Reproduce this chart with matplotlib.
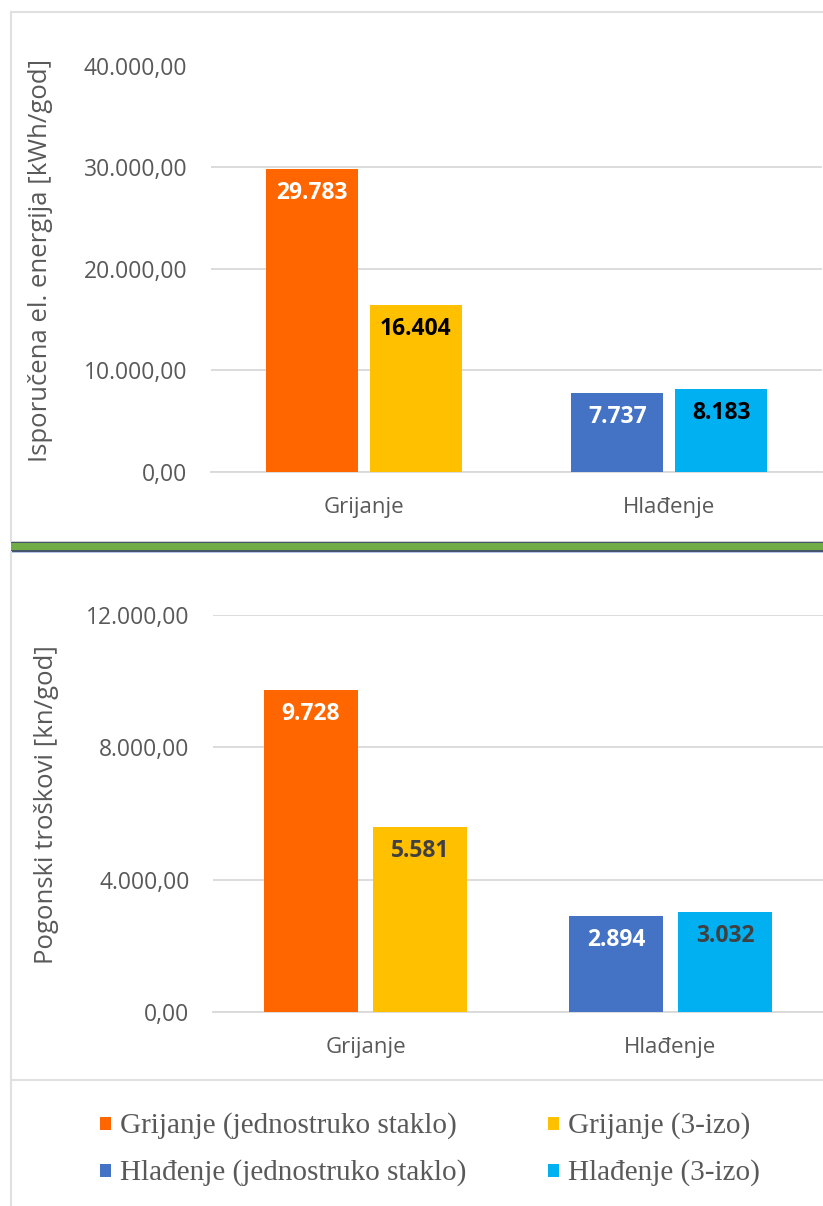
import matplotlib
matplotlib.use('Agg')
import matplotlib.pyplot as plt
import numpy as np
from matplotlib.patches import Rectangle
from matplotlib.lines import Line2D

# podaci
categories = ['Grijanje', 'Hlađenje']
energija_jedno = [29783, 7737]   # jednostruko staklo
energija_3izo = [16404, 8183]    # 3-izo
troskovi_jedno = [9728, 2894]
troskovi_3izo = [5581, 3032]
legend_labels = ['Grijanje (jednostruko staklo)', 'Grijanje (3-izo)',
                 'Hlađenje (jednostruko staklo)', 'Hlađenje (3-izo)']

col_jedno = ['#FF6600', '#4472C4']
col_3izo = ['#FFC000', '#00B0F0']

W, H = 823, 1206
GRAY = '#595959'
GRID = '#D9D9D9'
plt.rcParams['font.family'] = ['Open Sans', 'DejaVu Sans']

fig = plt.figure(figsize=(W / 100, H / 100), dpi=100)


def fx(x):
    return x / W


def fy(y):
    return 1 - y / H


def fmt_tick(v, pos=None):
    s = f"{v:,.2f}"
    return s.replace(',', 'X').replace('.', ',').replace('X', '.')


def fmt_val(v):
    return f"{v:,.0f}".replace(',', '.')


def bar_chart(rect, jedno, izo, ymax, step, width, off, lbl_cols, ylabel, ylab_xy):
    left, right, top, bottom = rect
    ax = fig.add_axes([fx(left), fy(bottom), fx(right) - fx(left), fy(top) - fy(bottom)])
    x = np.arange(len(categories))
    b1 = ax.bar(x - off, jedno, width, color=col_jedno, zorder=3)
    b2 = ax.bar(x + off, izo, width, color=col_3izo, zorder=3)
    ax.set_xlim(-0.5, 1.5)
    ax.set_ylim(0, ymax)
    ax.set_yticks(np.arange(0, ymax + 1, step))
    ax.yaxis.set_major_formatter(plt.FuncFormatter(fmt_tick))
    ax.set_xticks(x, labels=categories)
    ax.tick_params(axis='y', length=0, pad=17, labelsize=16.5, labelcolor=GRAY)
    ax.tick_params(axis='x', length=0, pad=18, labelsize=16, labelcolor=GRAY)
    ax.grid(axis='y', color=GRID, lw=1.3, zorder=0)
    for s in ['top', 'right', 'left']:
        ax.spines[s].set_visible(False)
    ax.spines['bottom'].set_color(GRID)
    ax.spines['bottom'].set_linewidth(1.3)
    # oznake vrijednosti
    for bars, vals, cols in [(b1, jedno, lbl_cols[0]), (b2, izo, lbl_cols[1])]:
        for b, v, c in zip(bars, vals, cols):
            ax.annotate(fmt_val(v), (b.get_x() + b.get_width() / 2, v),
                        xytext=(0, -24), textcoords='offset pixels',
                        ha='center', va='center', fontsize=16.5, fontweight='bold',
                        color=c, zorder=4)
    fig.text(fx(ylab_xy[0]), fy(ylab_xy[1]), ylabel, rotation=90, ha='center',
             va='center', fontsize=18.5, color=GRAY)
    return ax


bar_chart((211, 822, 65.5, 471.7), energija_jedno, energija_3izo, 40000, 10000,
          0.30, 0.17, [['white', 'white'], ['black', 'black']],
          'Isporučena el. energija [kWh/god]', (41, 260))

bar_chart((213, 823, 615, 1012), troskovi_jedno, troskovi_3izo, 12000, 4000,
          0.308, 0.179, [['white', 'white'], ['#404040', '#404040']],
          'Pogonski troškovi [kn/god]', (47, 805))

# okviri
def hline(y, x0, x1, color, lw):
    fig.add_artist(Line2D([fx(x0), fx(x1)], [fy(y), fy(y)], color=color, lw=lw))


def vline(x, y0, y1, color, lw):
    fig.add_artist(Line2D([fx(x), fx(x)], [fy(y0), fy(y1)], color=color, lw=lw))


hline(12, 11, 823, '#E0E0E0', 1.5)
vline(11, 12, 541, '#E0E0E0', 1.5)
vline(11, 552, 1206, '#E0E0E0', 1.5)
hline(1080, 11, 823, '#E0E0E0', 1.5)

# razdjelnik
for y0, y1, c in [(540.5, 541.5, '#D0D0D0'), (541.5, 543.5, '#44546A'),
                  (543.5, 550, '#70AD47'), (550, 551.5, '#44546A'),
                  (551.5, 553, '#B4C7E7')]:
    fig.add_artist(Rectangle((fx(11), fy(y1)), fx(823) - fx(11), fy(y0) - fy(y1),
                             color=c, lw=0))

# legenda
leg_colors = [col_jedno[0], col_3izo[0], col_jedno[1], col_3izo[1]]
leg_pos = [(100, 1133), (548, 1133), (100, 1180), (548, 1180)]
for lbl, c, (lx, ly) in zip(legend_labels, leg_colors, leg_pos):
    fig.add_artist(Rectangle((fx(lx), fy(ly - 3)), fx(11), fy(0) - fy(13), color=c, lw=0))
    fig.text(fx(lx + 20), fy(ly), lbl, ha='left', va='baseline', fontsize=21,
             color=GRAY, family=['Liberation Serif', 'DejaVu Serif'])

fig.savefig('out.png', dpi=100)
